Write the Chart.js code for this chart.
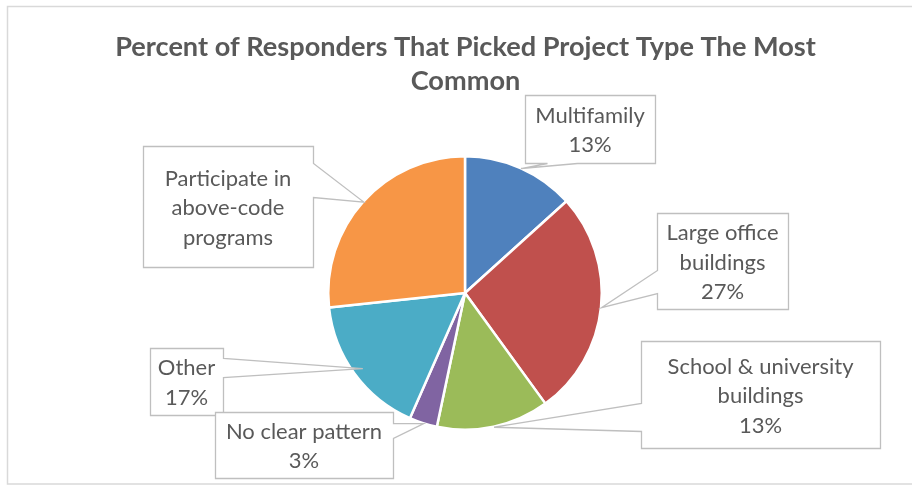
<!DOCTYPE html>
<html><head><meta charset="utf-8">
<script src="https://cdn.jsdelivr.net/npm/chart.js@4"></script>
<style>html,body{margin:0;padding:0;background:#fff;overflow:hidden}#wrap{width:912px;height:485px;position:relative}</style>
</head><body><div id="wrap"><canvas id="c" width="912" height="485"></canvas></div>
<script>
// ---- data ----
const categories = ['Multifamily', 'Large office buildings', 'School & university buildings', 'No clear pattern', 'Other', 'Participate in above-code programs'];
const values = [13.3, 26.7, 13.3, 3.3, 16.7, 26.7];
const percentLabels = ['13%', '27%', '13%', '3%', '17%', ''];
const categoryLines = [['Multifamily'], ['Large office', 'buildings'], ['School & university', 'buildings'], ['No clear pattern'], ['Other'], ['Participate in', 'above-code', 'programs']];
const titleLines = ['Percent of Responders That Picked Project Type The Most', 'Common'];
const colors = ['#4F81BD', '#C0504D', '#9BBB59', '#8064A2', '#4BACC6', '#F79646'];

// ---- layout of callouts (box rect, wedge side/base, tip radius factor) ----
const callouts = [
  {x:525, y:95,  w:130, h:68,  side:'bottom', b1:547, b2:577, tipR:1.0},
  {x:657, y:213, w:131, h:96,  side:'left',   b1:270, b2:293, tipR:1.0},
  {x:641, y:341, w:239, h:107, side:'left',   b1:403, b2:431, tipR:1.0},
  {x:215, y:412, w:178, h:66,  side:'right',  b1:423, b2:438, tipR:1.0},
  {x:150, y:348, w:73,  h:67,  side:'right',  b1:358, b2:377, tipR:0.93},
  {x:143, y:146, w:170, h:121, side:'right',  b1:163, b2:197, tipR:1.0}
];
const drawOrder = [5, 4, 3, 2, 1, 0];

const FONT = 'Lato, "Open Sans", sans-serif';
const TEXT = '#595959';
const mctx = document.createElement('canvas').getContext('2d');
function fitSize(weight, text, target) {
  mctx.font = weight + ' 100px ' + FONT;
  return 100 * target / mctx.measureText(text).width;
}
const titleSize = fitSize('bold', titleLines[0], 701);
const labelSize = fitSize('normal', 'School & university', 186);

const calloutPlugin = {
  id: 'callouts',
  beforeDraw(chart) {
    const ctx = chart.ctx;
    ctx.save();
    ctx.strokeStyle = '#D9D9D9';
    ctx.lineWidth = 1.5;
    ctx.strokeRect(7.5, 6.5, 930, 477.5);
    ctx.restore();
  },
  afterDraw(chart) {
    const ctx = chart.ctx;
    const meta = chart.getDatasetMeta(0);
    ctx.save();
    // title
    ctx.fillStyle = TEXT;
    ctx.font = 'bold ' + titleSize.toFixed(2) + 'px ' + FONT;
    ctx.textAlign = 'center';
    ctx.textBaseline = 'middle';
    ctx.fillText(titleLines[0], 465.5, 47);
    ctx.fillText(titleLines[1], 465.5, 81);

    drawOrder.forEach(i => {
      const c = callouts[i];
      const arc = meta.data[i];
      const mid = (arc.startAngle + arc.endAngle) / 2;
      const r = arc.outerRadius * c.tipR;
      const tx = arc.x + Math.cos(mid) * r;
      const ty = arc.y + Math.sin(mid) * r;
      const L = c.x, T = c.y, R = c.x + c.w, B = c.y + c.h;
      const pts = [];
      pts.push([L, T]);
      pts.push([R, T]);
      if (c.side === 'right') { pts.push([R, c.b1], [tx, ty], [R, c.b2]); }
      pts.push([R, B]);
      if (c.side === 'bottom') { pts.push([c.b2, B], [tx, ty], [c.b1, B]); }
      pts.push([L, B]);
      if (c.side === 'left') { pts.push([L, c.b2], [tx, ty], [L, c.b1]); }
      ctx.beginPath();
      pts.forEach((p, k) => k ? ctx.lineTo(p[0] + 0.5, p[1] + 0.5) : ctx.moveTo(p[0] + 0.5, p[1] + 0.5));
      ctx.closePath();
      ctx.fillStyle = '#FFFFFF';
      ctx.fill();
      ctx.strokeStyle = '#BFBFBF';
      ctx.lineWidth = 1.3;
      ctx.stroke();

      const lines = categoryLines[i].concat(percentLabels[i] ? [percentLabels[i]] : []);
      const lh = 29.5;
      const cx = L + c.w / 2;
      const cy = T + c.h / 2 + 1.5;
      ctx.fillStyle = TEXT;
      ctx.font = labelSize.toFixed(2) + 'px ' + FONT;
      ctx.textAlign = 'center';
      ctx.textBaseline = 'middle';
      lines.forEach((s, k) => {
        ctx.fillText(s, cx, cy + (k - (lines.length - 1) / 2) * lh);
      });
    });
    ctx.restore();
  }
};

new Chart(document.getElementById('c'), {
  type: 'pie',
  data: {
    labels: categories,
    datasets: [{
      data: values,
      backgroundColor: colors,
      borderColor: '#FFFFFF',
      borderWidth: 2.5,
      hoverOffset: 0,
      offset: 0
    }]
  },
  options: {
    responsive: false,
    animation: false,
    events: [],
    layout: { padding: { top: 155, bottom: 54, left: 18, right: 0 } },
    plugins: {
      legend: { display: false },
      title: { display: false },
      tooltip: { enabled: false }
    }
  },
  plugins: [calloutPlugin]
});
</script>
</body></html>
